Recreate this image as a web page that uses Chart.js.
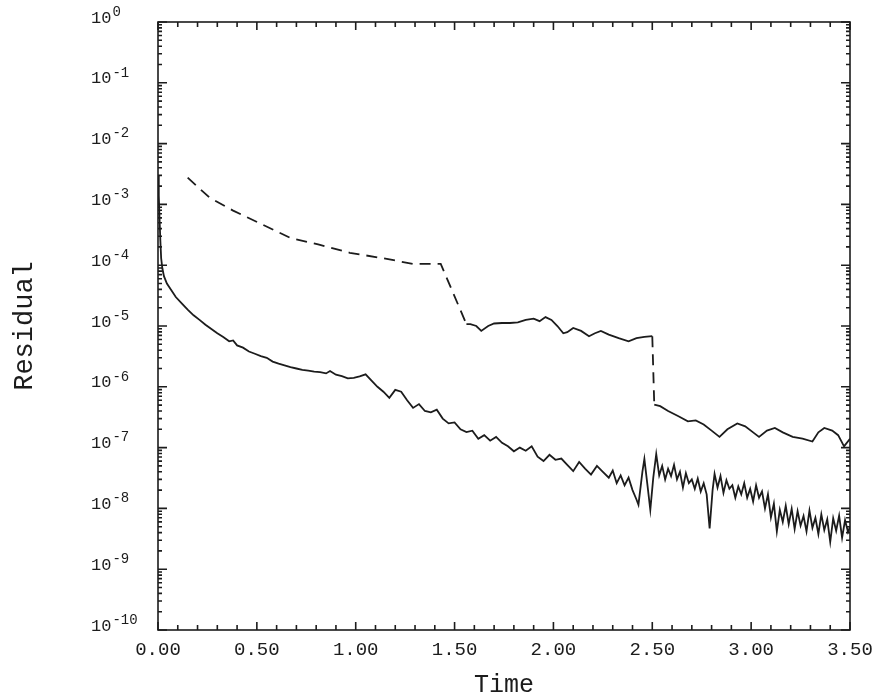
<!DOCTYPE html>
<html>
<head>
<meta charset="utf-8">
<script src="https://cdn.jsdelivr.net/npm/chart.js@4.4.1/dist/chart.umd.min.js"></script>
<style>
  html, body { margin: 0; padding: 0; background: #fff; }
  #residualChart { display: block; }
</style>
</head>
<body>
<canvas id="residualChart" width="882" height="700"></canvas>
<script>
// curva inferior (linea continua)
const tiempo1 = [
    0.000, 0.004, 0.008, 0.012, 0.016, 0.022, 0.030, 0.045, 0.065, 0.090,
    0.120, 0.150, 0.180, 0.210, 0.240, 0.270, 0.300, 0.330, 0.360, 0.380,
    0.400, 0.430, 0.460, 0.490, 0.520, 0.550, 0.580, 0.610, 0.640, 0.670,
    0.700, 0.730, 0.760, 0.790, 0.820, 0.850, 0.870, 0.900, 0.930, 0.960,
    0.990, 1.020, 1.050, 1.080, 1.110, 1.140, 1.170, 1.200, 1.230, 1.260,
    1.290, 1.320, 1.350, 1.380, 1.410, 1.440, 1.470, 1.500, 1.530, 1.560,
    1.590, 1.620, 1.650, 1.680, 1.710, 1.740, 1.770, 1.800, 1.830, 1.860,
    1.890, 1.920, 1.950, 1.980, 2.010, 2.040, 2.070, 2.100, 2.130, 2.160,
    2.190, 2.220, 2.250, 2.280, 2.300, 2.320, 2.340, 2.360, 2.380, 2.400,
    2.420, 2.430, 2.450, 2.460, 2.475, 2.490, 2.505, 2.520, 2.535, 2.550,
    2.565, 2.580, 2.595, 2.610, 2.625, 2.640, 2.655, 2.670, 2.685, 2.700,
    2.715, 2.730, 2.745, 2.760, 2.775, 2.790, 2.805, 2.815, 2.830, 2.845,
    2.860, 2.875, 2.890, 2.905, 2.920, 2.935, 2.950, 2.965, 2.980, 2.995,
    3.010, 3.025, 3.040, 3.055, 3.070, 3.085, 3.100, 3.115, 3.130, 3.145,
    3.160, 3.175, 3.190, 3.205, 3.220, 3.235, 3.250, 3.265, 3.280, 3.295,
    3.310, 3.325, 3.340, 3.355, 3.370, 3.385, 3.400, 3.415, 3.430, 3.445,
    3.460, 3.475, 3.490, 3.500
];
const residual1 = [
    3.0e-3, 1.4e-3, 5.6e-4, 2.5e-4, 1.3e-4, 8.9e-5, 6.6e-5, 5.0e-5, 4.0e-5, 3.0e-5,
    2.35e-5, 1.86e-5, 1.5e-5, 1.26e-5, 1.05e-5, 8.9e-6, 7.6e-6, 6.6e-6, 5.6e-6, 5.8e-6,
    4.8e-6, 4.4e-6, 3.8e-6, 3.5e-6, 3.2e-6, 3.0e-6, 2.6e-6, 2.4e-6, 2.25e-6, 2.1e-6,
    2.0e-6, 1.9e-6, 1.85e-6, 1.78e-6, 1.74e-6, 1.66e-6, 1.82e-6, 1.58e-6, 1.5e-6, 1.38e-6,
    1.4e-6, 1.48e-6, 1.6e-6, 1.26e-6, 1.0e-6, 8.3e-7, 6.6e-7, 8.9e-7, 8.3e-7, 6.0e-7,
    4.5e-7, 5.2e-7, 4.0e-7, 3.8e-7, 4.2e-7, 3.0e-7, 2.5e-7, 2.6e-7, 2.0e-7, 1.8e-7,
    1.9e-7, 1.4e-7, 1.6e-7, 1.3e-7, 1.5e-7, 1.2e-7, 1.05e-7, 8.7e-8, 1.0e-7, 8.9e-8,
    1.05e-7, 7.1e-8, 6.0e-8, 7.6e-8, 6.3e-8, 6.6e-8, 5.2e-8, 4.1e-8, 5.8e-8, 4.5e-8,
    3.6e-8, 5.0e-8, 4.0e-8, 3.2e-8, 4.2e-8, 2.6e-8, 3.5e-8, 2.4e-8, 3.2e-8, 2.0e-8,
    1.4e-8, 1.15e-8, 4.0e-8, 6.5e-8, 2.5e-8, 9.5e-9, 3.2e-8, 7.8e-8, 3.5e-8, 5.0e-8,
    3.0e-8, 4.5e-8, 3.4e-8, 5.2e-8, 3.0e-8, 4.0e-8, 2.2e-8, 3.8e-8, 2.6e-8, 3.0e-8,
    2.1e-8, 3.1e-8, 1.9e-8, 2.6e-8, 1.7e-8, 4.7e-9, 2.0e-8, 3.7e-8, 2.2e-8, 3.4e-8,
    1.8e-8, 2.9e-8, 2.1e-8, 2.4e-8, 1.5e-8, 2.3e-8, 1.7e-8, 2.6e-8, 1.5e-8, 2.1e-8,
    1.3e-8, 2.4e-8, 1.5e-8, 1.9e-8, 1.0e-8, 1.7e-8, 7.1e-9, 1.2e-8, 4.2e-9, 9.5e-9,
    6.0e-9, 1.1e-8, 5.5e-9, 9.8e-9, 4.6e-9, 9.0e-9, 5.2e-9, 7.5e-9, 4.2e-9, 9.2e-9,
    4.8e-9, 7.0e-9, 3.8e-9, 8.0e-9, 4.4e-9, 6.6e-9, 2.8e-9, 6.9e-9, 4.3e-9, 7.6e-9,
    3.3e-9, 6.4e-9, 4.1e-9, 5.0e-9
];

// curva superior (tramos discontinuos en los saltos)
const tiempo2 = [
    0.15, 0.26, 0.38, 0.52, 0.67, 0.81, 0.97, 1.14, 1.29, 1.43,
    1.56, 1.58, 1.61, 1.635, 1.67, 1.70, 1.74, 1.78, 1.82, 1.86,
    1.90, 1.93, 1.96, 1.99, 2.02, 2.05, 2.07, 2.10, 2.14, 2.18,
    2.21, 2.24, 2.28, 2.33, 2.38, 2.42, 2.46, 2.50, 2.51, 2.54,
    2.58, 2.63, 2.68, 2.72, 2.76, 2.80, 2.84, 2.88, 2.93, 2.97,
    3.01, 3.04, 3.08, 3.12, 3.16, 3.21, 3.26, 3.31, 3.34, 3.37,
    3.41, 3.44, 3.47, 3.50
];
const residual2 = [
    2.75e-3, 1.3e-3, 7.9e-4, 4.8e-4, 2.8e-4, 2.2e-4, 1.6e-4, 1.3e-4, 1.05e-4, 1.05e-4,
    1.07e-5, 1.07e-5, 1.0e-5, 8.3e-6, 1.0e-5, 1.1e-5, 1.12e-5, 1.12e-5, 1.15e-5, 1.26e-5,
    1.32e-5, 1.2e-5, 1.4e-5, 1.26e-5, 1.0e-5, 7.6e-6, 7.9e-6, 9.3e-6, 8.3e-6, 6.8e-6,
    7.6e-6, 8.3e-6, 7.2e-6, 6.3e-6, 5.6e-6, 6.3e-6, 6.6e-6, 6.8e-6, 5.1e-7, 4.8e-7,
    4.0e-7, 3.3e-7, 2.7e-7, 2.8e-7, 2.4e-7, 1.9e-7, 1.5e-7, 2.0e-7, 2.5e-7, 2.24e-7,
    1.78e-7, 1.5e-7, 1.9e-7, 2.1e-7, 1.78e-7, 1.5e-7, 1.4e-7, 1.26e-7, 1.78e-7, 2.1e-7,
    1.9e-7, 1.6e-7, 1.05e-7, 1.4e-7
];

// marcas del eje y: decadas y exponentes de su etiqueta
const decadas = [1, 1e-1, 1e-2, 1e-3, 1e-4, 1e-5, 1e-6, 1e-7, 1e-8, 1e-9, 1e-10];
const exponentesY = ['0', '-1', '-2', '-3', '-4', '-5', '-6', '-7', '-8', '-9', '-10'];

const colorLinea = '#1c1c1c';
const fuente = "'Liberation Mono', 'DejaVu Sans Mono', monospace";

// marco, marcas hacia adentro y etiquetas 10^n del eje y
const marcoPlugin = {
    id: 'marco',
    afterDraw(chart) {
        const { ctx, chartArea: a, scales: { x, y } } = chart;
        ctx.save();
        ctx.strokeStyle = colorLinea;
        ctx.lineWidth = 1.6;
        ctx.strokeRect(a.left, a.top, a.right - a.left, a.bottom - a.top);
        ctx.beginPath();
        for (let i = 0; i <= 35; i++) {
            const px = x.getPixelForValue(i / 10);
            const len = i % 5 === 0 ? 8 : 5;
            ctx.moveTo(px, a.bottom); ctx.lineTo(px, a.bottom - len);
            ctx.moveTo(px, a.top); ctx.lineTo(px, a.top + len);
        }
        decadas.forEach(d => {
            for (let m = 1; m <= 9; m++) {
                const v = d * m;
                if (v > 1) continue;
                const py = y.getPixelForValue(v);
                const len = m === 1 ? 9 : 4;
                ctx.moveTo(a.left, py); ctx.lineTo(a.left + len, py);
                ctx.moveTo(a.right, py); ctx.lineTo(a.right - len, py);
            }
        });
        ctx.stroke();

        ctx.fillStyle = colorLinea;
        ctx.textAlign = 'left';
        ctx.textBaseline = 'middle';
        decadas.forEach((d, i) => {
            const py = y.getPixelForValue(d);
            ctx.font = `17px ${fuente}`;
            ctx.fillText('10', 91, py - 4);
            const w = ctx.measureText('10').width;
            ctx.font = `14px ${fuente}`;
            ctx.fillText(exponentesY[i], 91 + w + 1, py - 10);
        });
        ctx.restore();
    }
};

function grafica_residual() {
    const data = {
        datasets: [
            {
                label: 'inferior',
                data: tiempo1.map((t, i) => ({ x: t, y: residual1[i] })),
                borderColor: colorLinea,
                borderWidth: 1.8,
                pointRadius: 0,
                tension: 0
            },
            {
                label: 'superior',
                data: tiempo2.map((t, i) => ({ x: t, y: residual2[i] })),
                borderColor: colorLinea,
                borderWidth: 1.8,
                pointRadius: 0,
                tension: 0,
                segment: {
                    // discontinua hasta el primer salto y en el salto de t = 2.5
                    borderDash: c => (c.p1.parsed.x <= 1.56 ||
                        (c.p0.parsed.x >= 2.5 && c.p1.parsed.x <= 2.51)) ? [11, 7] : undefined
                }
            }
        ]
    };

    const config = {
        type: 'line',
        data: data,
        options: {
            responsive: false,
            animation: false,
            layout: { padding: { top: 22, right: 32, bottom: 0, left: 0 } },
            plugins: {
                legend: { display: false },
                tooltip: { enabled: false }
            },
            scales: {
                x: {
                    type: 'linear',
                    min: 0,
                    max: 3.5,
                    grid: { display: false, drawTicks: false },
                    border: { display: false },
                    ticks: {
                        stepSize: 0.5,
                        padding: 9,
                        color: colorLinea,
                        font: { family: fuente, size: 19 },
                        maxRotation: 0,
                        callback: v => v.toFixed(2)
                    },
                    title: {
                        display: true,
                        text: 'Time',
                        color: colorLinea,
                        font: { family: fuente, size: 25 },
                        padding: { top: 0, bottom: 0 }
                    },
                    afterFit: s => { s.height = 70; }
                },
                y: {
                    type: 'logarithmic',
                    min: 1e-10,
                    max: 1,
                    grid: { display: false, drawTicks: false },
                    border: { display: false },
                    afterBuildTicks: s => { s.ticks = decadas.map(v => ({ value: v })); },
                    ticks: { display: false },
                    title: {
                        display: true,
                        text: 'Residual',
                        color: colorLinea,
                        font: { family: fuente, size: 27 },
                        padding: { top: 9, bottom: 0 }
                    },
                    afterFit: s => { s.width = 158; }
                }
            }
        },
        plugins: [marcoPlugin]
    };

    const ctx = document.getElementById('residualChart').getContext('2d');
    window.residualChartInstance = new Chart(ctx, config);
}

grafica_residual();
</script>
</body>
</html>
